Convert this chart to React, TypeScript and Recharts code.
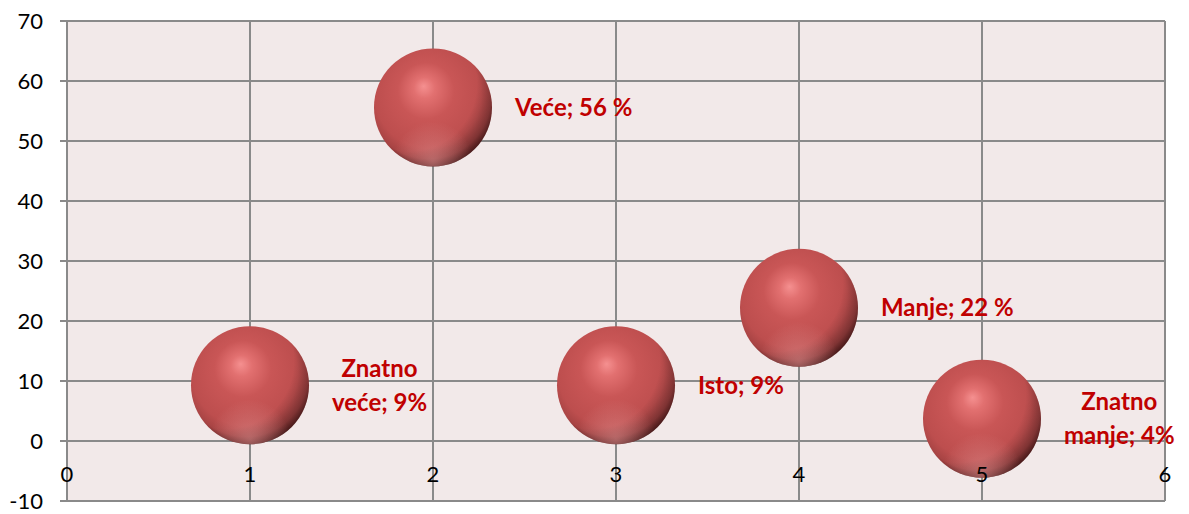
import { ScatterChart, Scatter, XAxis, YAxis, CartesianGrid } from "recharts";

// share of answers (54 respondents)
const xValues = [1, 2, 3, 4, 5];
const yValues = [9.3, 55.6, 9.3, 22.2, 3.7];
const pointLabels = ["Znatno\nveće; 9%", "Veće; 56 %", "Isto; 9%", "Manje; 22 %", "Znatno\nmanje; 4%"];
const xTicks = [0, 1, 2, 3, 4, 5, 6];
const yTicks = [-10, 0, 10, 20, 30, 40, 50, 60, 70];

const data = xValues.map((x, i) => ({ x, y: yValues[i], label: pointLabels[i] }));

const GRID = "#8a8a8a";
const LABEL_FONT = "bold 24px Lato";
const RADIUS = 59;

let ctx: CanvasRenderingContext2D | null = null;
function textWidth(s: string) {
    if (!ctx) ctx = document.createElement("canvas").getContext("2d");
    if (!ctx) return s.length * 12;
    ctx.font = LABEL_FONT;
    return ctx.measureText(s).width;
}

function Bubble(props: any) {
    const { cx, cy, index, payload } = props;
    const id = `ball${index}`;
    const lines: string[] = payload.label.split("\n");
    const blockW = Math.max(...lines.map(textWidth));
    const tx = cx + RADIUS + 23 + blockW / 2;
    return (
        <g>
            <defs>
                <radialGradient id={`${id}a`} cx="0.47" cy="0.42" r="0.6" fx="0.42" fy="0.32">
                    <stop offset="0%" stopColor="#f59090" />
                    <stop offset="15%" stopColor="#e27070" />
                    <stop offset="40%" stopColor="#c95656" />
                    <stop offset="75%" stopColor="#bd4e4e" />
                    <stop offset="88%" stopColor="#a84444" />
                    <stop offset="97%" stopColor="#702828" />
                    <stop offset="100%" stopColor="#4a1818" />
                </radialGradient>
                <radialGradient id={`${id}b`} cx="0.3" cy="0.3" r="0.92">
                    <stop offset="0%" stopColor="#000" stopOpacity={0} />
                    <stop offset="62%" stopColor="#000" stopOpacity={0} />
                    <stop offset="82%" stopColor="#000" stopOpacity={0.3} />
                    <stop offset="100%" stopColor="#000" stopOpacity={0.6} />
                </radialGradient>
                <radialGradient id={`${id}c`} cx="0.5" cy="0.96" r="0.34">
                    <stop offset="0%" stopColor="#e69a9a" stopOpacity={0.5} />
                    <stop offset="100%" stopColor="#e69a9a" stopOpacity={0} />
                </radialGradient>
            </defs>
            <circle cx={cx} cy={cy} r={RADIUS} fill={`url(#${id}a)`} />
            <circle cx={cx} cy={cy} r={RADIUS} fill={`url(#${id}b)`} />
            <circle cx={cx} cy={cy} r={RADIUS} fill={`url(#${id}c)`} />
            <text x={tx} textAnchor="middle" fill="#c00000" style={{ font: LABEL_FONT }}>
                {lines.map((l, i) => (
                    <tspan key={i} x={tx} y={cy + (i - (lines.length - 1) / 2) * 34} dy="0.36em">
                        {l}
                    </tspan>
                ))}
            </text>
        </g>
    );
}

function XTick(props: any) {
    const { x, y, payload } = props;
    // horizontal axis crosses at 0, labels sit just under that line
    return (
        <text x={x} y={y - 19} textAnchor="middle" fill="#000" style={{ fontFamily: "Lato", fontSize: 22 }}>
            {payload.value}
        </text>
    );
}

export default function App() {
    return (
        <div style={{ width: 1181, height: 506 }}>
            <ScatterChart width={1181} height={506} margin={{ top: 13, right: 24, bottom: 0, left: 0 }}>
                <CartesianGrid stroke={GRID} strokeWidth={2} fill="#f2e9e9" fillOpacity={1} />
                <XAxis
                    type="number"
                    dataKey="x"
                    domain={[0, 6]}
                    ticks={xTicks}
                    height={13}
                    axisLine={false}
                    tickLine={false}
                    tickSize={0}
                    tickMargin={0}
                    tick={<XTick />}
                    interval={0}
                />
                <YAxis
                    type="number"
                    dataKey="y"
                    domain={[-10, 70]}
                    ticks={yTicks}
                    width={59}
                    interval={0}
                    axisLine={{ stroke: GRID, strokeWidth: 2 }}
                    tickLine={{ stroke: GRID, strokeWidth: 2 }}
                    tickSize={7}
                    tickMargin={17}
                    tick={{ fill: "#000", fontSize: 22, fontFamily: "Lato" }}
                />
                <Scatter data={data} shape={<Bubble />} isAnimationActive={false} />
            </ScatterChart>
        </div>
    );
}
